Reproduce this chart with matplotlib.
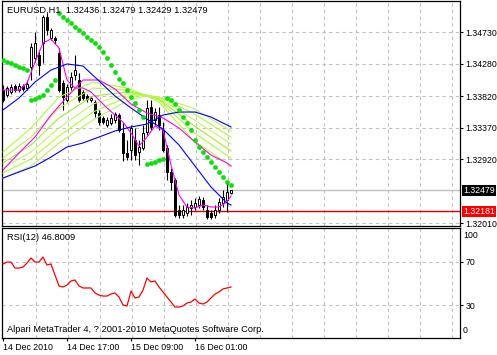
import matplotlib
matplotlib.use("Agg")
import matplotlib.pyplot as plt
import numpy as np

plt.rcParams['font.family'] = ['Liberation Sans', 'DejaVu Sans']

# ---------------- data ----------------
opens = [1.33908, 1.33837, 1.33880, 1.33965, 1.33908, 1.33965, 1.33937, 1.34236, 1.34364, 1.34407,
         1.34578, 1.34948, 1.34649, 1.34649, 1.34435, 1.34008, 1.33766, 1.33951, 1.34122, 1.34051,
         1.33880, 1.33823, 1.33766, 1.33738, 1.33581, 1.33510, 1.33410, 1.33438, 1.33481, 1.33552,
         1.33296, 1.33011, 1.33054, 1.33196, 1.33026, 1.33082, 1.33310, 1.33666, 1.33481, 1.33552,
         1.33339, 1.33082, 1.32741, 1.32627, 1.32200, 1.32128, 1.32157, 1.32228, 1.32242, 1.32271,
         1.32342, 1.32200, 1.32157, 1.32128, 1.32200, 1.32299, 1.32342, 1.32436]
highs = [1.33980, 1.33965, 1.33994, 1.33994, 1.34008, 1.33994, 1.34051, 1.34578, 1.34734, 1.34478,
         1.34976, 1.35005, 1.34791, 1.34677, 1.34506, 1.34051, 1.33994, 1.34165, 1.34407, 1.34150,
         1.33908, 1.33851, 1.33823, 1.33766, 1.33624, 1.33538, 1.33524, 1.33567, 1.33595, 1.33581,
         1.33438, 1.33196, 1.33410, 1.33367, 1.33196, 1.33410, 1.33766, 1.33766, 1.33652, 1.33666,
         1.33453, 1.33125, 1.32798, 1.32655, 1.32271, 1.32271, 1.32299, 1.32342, 1.32370, 1.32399,
         1.32385, 1.32271, 1.32200, 1.32271, 1.32370, 1.32484, 1.32584, 1.32479]
lows = [1.33738, 1.33809, 1.33851, 1.33880, 1.33880, 1.33894, 1.33908, 1.34051, 1.34307, 1.34122,
        1.34293, 1.34692, 1.34620, 1.34563, 1.33880, 1.33624, 1.33738, 1.33908, 1.34051, 1.33738,
        1.33766, 1.33738, 1.33738, 1.33524, 1.33410, 1.33424, 1.33382, 1.33410, 1.33438, 1.33310,
        1.32897, 1.32912, 1.32912, 1.32912, 1.32840, 1.33054, 1.33268, 1.33339, 1.33410, 1.33339,
        1.33026, 1.32627, 1.32484, 1.32100, 1.32086, 1.32086, 1.32114, 1.32128, 1.32200, 1.32228,
        1.32200, 1.32071, 1.32071, 1.32086, 1.32157, 1.32242, 1.32171, 1.32429]
closes = [1.33766, 1.33937, 1.33951, 1.33908, 1.33965, 1.33923, 1.33994, 1.34521, 1.34578, 1.34264,
          1.34948, 1.34763, 1.34763, 1.34620, 1.33908, 1.33809, 1.33951, 1.34094, 1.34193, 1.33766,
          1.33794, 1.33780, 1.33794, 1.33581, 1.33453, 1.33453, 1.33481, 1.33510, 1.33567, 1.33339,
          1.33011, 1.32954, 1.33367, 1.32983, 1.33097, 1.33296, 1.33652, 1.33382, 1.33595, 1.33410,
          1.33054, 1.32741, 1.32598, 1.32128, 1.32128, 1.32200, 1.32242, 1.32271, 1.32299, 1.32356,
          1.32242, 1.32100, 1.32100, 1.32200, 1.32314, 1.32385, 1.32456, 1.32479]

sar = [1.34336, 1.34307, 1.34293, 1.34264, 1.34236, 1.34222, 1.34193,
       1.33766, 1.33780, 1.33809, 1.33837, 1.33908, 1.33980, 1.34051,
       1.35005, 1.34948, 1.34905, 1.34862, 1.34806, 1.34763, 1.34720, 1.34663, 1.34620, 1.34578,
       1.34521, 1.34450, 1.34364, 1.34264, 1.34165, 1.34065, 1.34008, 1.33908, 1.33809, 1.33723,
       1.33624, 1.33524,
       1.32855, 1.32869, 1.32883, 1.32912, 1.32926,
       1.33794, 1.33766, 1.33709, 1.33624, 1.33524, 1.33438, 1.33339, 1.33196, 1.33097, 1.33026,
       1.32954, 1.32883, 1.32812, 1.32741, 1.32670, 1.32598, 1.32556]

rsi = [67.9, 69.7, 69.7, 64.2, 64.2, 65.1, 68.8, 73.4, 69.7, 69.7,
       74.3, 67.0, 67.9, 57.8, 47.7, 46.8, 48.6, 52.3, 53.2, 47.7,
       45.9, 45.9, 45.9, 41.3, 39.4, 38.5, 38.5, 40.4, 41.3, 37.6,
       30.3, 29.4, 43.1, 36.7, 37.6, 44.0, 55.0, 51.4, 52.3, 46.8,
       42.2, 37.6, 33.0, 28.4, 28.4, 29.4, 32.1, 33.0, 35.8, 32.1,
       31.2, 33.0, 36.7, 40.4, 42.2, 45.0, 45.9, 46.8009]

ma_x = [0, 4, 8, 12, 16, 20, 24, 28, 32, 36, 40, 44, 48, 52, 56, 57]
blue_fast = [1.33624, 1.33794, 1.34022, 1.34193, 1.34279, 1.34250, 1.34037, 1.33823,
             1.33652, 1.33495, 1.33353, 1.33125, 1.32826, 1.32527, 1.32299, 1.32271]
blue_slow = [1.32655, 1.32741, 1.32826, 1.32954, 1.33097, 1.33154, 1.33239, 1.33325,
             1.33382, 1.33424, 1.33552, 1.33595, 1.33595, 1.33524, 1.33410, 1.33382]
magenta_slow = [1.32769, 1.33011, 1.33239, 1.33552, 1.33809, 1.34051, 1.34051, 1.33923,
                1.33709, 1.33581, 1.33510, 1.33367, 1.33168, 1.32983, 1.32869, 1.32826]

fast_x = list(range(0, 57, 2)) + [57]
magenta_fast = [1.33908, 1.33908, 1.33908, 1.34008, 1.34307, 1.34578, 1.34635, 1.34506, 1.34051, 1.33937,
                1.33937, 1.33880, 1.33766, 1.33652, 1.33552, 1.33453, 1.33296, 1.33111, 1.33239, 1.33396,
                1.33339, 1.32840, 1.32413, 1.32242, 1.32228, 1.32271, 1.32242, 1.32242, 1.32314, 1.32399]

fan_x = [0, 7, 14, 22.5, 31, 35.5, 39, 47.5, 57]
fan_1 = [1.33026, 1.33367, 1.33809, 1.34022, 1.33937, 1.33837, 1.33738, 1.33196, 1.32826]
fan_2 = [1.32940, 1.33239, 1.33652, 1.33937, 1.33908, 1.33837, 1.33766, 1.33310, 1.32940]
fan_3 = [1.32869, 1.33125, 1.33510, 1.33823, 1.33880, 1.33837, 1.33780, 1.33410, 1.33040]
fan_4 = [1.32798, 1.33026, 1.33367, 1.33709, 1.33851, 1.33837, 1.33794, 1.33495, 1.33139]
fan_5 = [1.32726, 1.32926, 1.33253, 1.33595, 1.33809, 1.33837, 1.33809, 1.33581, 1.33239]
fan_6 = [1.32655, 1.32826, 1.33154, 1.33481, 1.33752, 1.33823, 1.33809, 1.33652, 1.33325]

title = "EURUSD,H1  1.32436 1.32479 1.32429 1.32479"
rsi_title = "RSI(12) 46.8009"
footer = "Alpari MetaTrader 4, ? 2001-2010 MetaQuotes Software Corp."
time_ticks = [0, 16, 32, 48]
time_labels = ["14 Dec 2010", "14 Dec 17:00", "15 Dec 09:00", "16 Dec 01:00"]
price_ticks = [1.34730, 1.34280, 1.33820, 1.33370, 1.32920, 1.32010]
bid = 1.32479
red_level = 1.32181
rsi_levels = [70, 30]

# ---------------- layout ----------------
W, H = 497, 355
fig = plt.figure(figsize=(W / 100, H / 100), dpi=100)
fig.patch.set_facecolor('white')


def px_axes(l, t, r, b):
    return fig.add_axes([l / W, 1 - b / H, (r - l) / W, (b - t) / H])


ax = px_axes(2, 1, 460, 225.5)
ar = px_axes(2, 227.5, 460, 338)

XLIM = (-0.25, 114.25)
for a in (ax, ar):
    a.set_xlim(*XLIM)
    for s in a.spines.values():
        s.set_color('black')
        s.set_linewidth(0.9)
    a.set_facecolor('white')

ax.set_ylim(1.31979, 1.35176)
ar.set_ylim(0, 101.4)

FS = 6.3
GRID = dict(color='#c0c0c0', lw=0.8, ls=(0, (3, 3)), zorder=1)
for b in range(8, 113, 8):
    ax.axvline(b + 0.15, **GRID)
    ar.axvline(b + 0.15, **GRID)
for p in price_ticks:
    ax.axhline(p, **GRID)
for r in rsi_levels:
    ar.axhline(r, **GRID)

ax.axhline(bid, color='#c0c0c0', lw=1.0, zorder=1.5)
ax.axhline(red_level, color='#e00000', lw=1.0, zorder=2)

# candles
x = np.arange(len(opens))
o = np.array(opens); c = np.array(closes)
ax.vlines(x, lows, highs, color='black', lw=0.8, zorder=3)
bottoms = np.minimum(o, c)
heights = np.maximum(np.abs(c - o), 0.00002)
cols = ['white' if cc >= oo else 'black' for oo, cc in zip(o, c)]
ax.bar(x, heights, bottom=bottoms, width=0.5, color=cols, edgecolor='black',
       linewidth=0.7, zorder=4)

# moving averages
fan_cols = ['#adff2f', '#b4f73c', '#a4ea2c', '#c2f760', '#adff2f', '#bff25a']
for fc, fy in zip(fan_cols, [fan_1, fan_2, fan_3, fan_4, fan_5, fan_6]):
    ax.plot(fan_x, fy, color=fc, lw=0.8, zorder=5)
ax.plot(ma_x, magenta_slow, color='#ff00ff', lw=0.8, zorder=5)
ax.plot(fast_x, magenta_fast, color='#ff00ff', lw=0.8, zorder=5)
ax.plot(ma_x, blue_slow, color='#0000ff', lw=0.8, zorder=5)
ax.plot(ma_x, blue_fast, color='#0000ff', lw=0.8, zorder=5)

# parabolic SAR
ax.plot(x, sar, 'o', ms=3.0, color='#00e800', mec='#00c800', mew=0.3, zorder=6)

# price axis
ax.yaxis.tick_right()
ax.set_yticks(price_ticks)
ax.set_yticklabels([f"{p:.5f}" for p in price_ticks])
ax.tick_params(axis='y', direction='out', length=2.5, width=0.8, pad=1.5,
               labelsize=FS, colors='black')
ax.tick_params(axis='x', bottom=False, labelbottom=False)

ytr = ax.get_yaxis_transform()
ax.text(1.0066, bid, f"{bid:.5f}", transform=ytr, ha='left', va='center',
        color='white', fontsize=FS, clip_on=False, zorder=10,
        bbox=dict(boxstyle='square,pad=0.15', fc='black', ec='none'))
ax.text(1.0066, red_level, f"{red_level:.5f}", transform=ytr, ha='left', va='center',
        color='white', fontsize=FS, clip_on=False, zorder=10,
        bbox=dict(boxstyle='square,pad=0.15', fc='#ff0000', ec='none'))

ax.text(5 / 458, 0.958, title, transform=ax.transAxes, ha='left', va='center',
        fontsize=FS + 0.4, color='black', zorder=10)

# RSI panel
ar.plot(x, rsi, color='#ff0000', lw=0.9, zorder=5)
ar.yaxis.tick_right()
ar.set_yticks(rsi_levels)
ar.set_yticklabels([str(v) for v in rsi_levels])
ar.tick_params(axis='y', direction='out', length=2.5, width=0.8, pad=1.5,
               labelsize=FS, colors='black')
rtr = ar.get_yaxis_transform()
ar.text(1.0066, 93.9, "100", transform=rtr, ha='left', va='center', fontsize=FS, clip_on=False)
ar.text(1.0066, 7.3, "0", transform=rtr, ha='left', va='center', fontsize=FS, clip_on=False)

ar.text(5 / 458, 0.914, rsi_title, transform=ar.transAxes, ha='left', va='center',
        fontsize=FS + 0.4, color='black')
ar.text(5 / 458, 0.081, footer, transform=ar.transAxes, ha='left', va='center',
        fontsize=FS + 0.4, color='black')

ar.set_xticks(time_ticks)
ar.set_xticklabels(time_labels, ha='left')
ar.tick_params(axis='x', direction='out', length=2.5, width=0.8, pad=1.2,
               labelsize=FS, colors='black')

fig.savefig('out.png', dpi=100, facecolor='white')
